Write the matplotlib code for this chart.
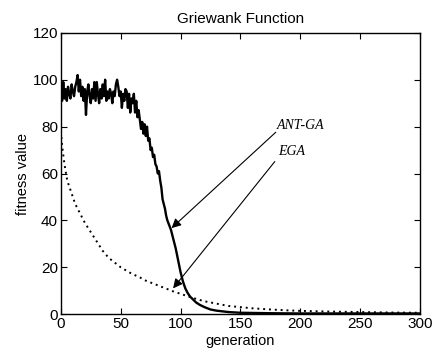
import matplotlib
matplotlib.use("Agg")
import matplotlib.pyplot as plt

# ANT-GA (solid, noisy) values
ant_gen = list(range(0, 90)) + [92, 94, 96, 98, 100, 102, 104, 106, 108, 110,
                                113, 116, 120, 125, 130, 140, 150, 175, 200, 250, 300]
ant_val = [100, 91, 99, 92, 96, 91, 97, 94, 92, 98,
           95, 93, 97, 99, 102, 95, 100, 93, 97, 91,
           96, 85, 95, 98, 93, 90, 96, 92, 99, 91,
           99, 94, 90, 96, 92, 98, 93, 100, 91, 95,
           92, 96, 94, 90, 95, 93, 98, 100, 97, 93,
           95, 88, 94, 91, 96, 95, 88, 94, 86, 92,
           90, 94, 86, 91, 84, 87, 83, 79, 82, 77,
           81, 76, 80, 74, 75, 70, 71, 67, 68, 64,
           63, 60, 61, 57, 54, 49, 47, 45, 42, 40,
           36, 32, 28, 23, 18, 14, 11, 9, 7.5, 6.5,
           5, 4, 3, 2, 1.5, 0.9, 0.6, 0.4, 0.3, 0.3, 0.3]

# EGA (dotted) values
ega_gen = [0, 1, 2, 3, 4, 5, 6, 8, 10, 12, 15, 18, 20, 25, 30, 35, 40, 45, 50,
           55, 60, 65, 70, 75, 80, 85, 90, 95, 100, 105, 110, 115, 120, 130,
           140, 150, 160, 175, 190, 200, 225, 250, 275, 300]
ega_val = [78, 72, 68, 64, 61, 58, 56, 53, 50, 47, 44, 41, 39, 35, 31, 27, 24,
           22, 20, 18.5, 17, 16, 14.5, 13.5, 12.5, 11.5, 10.5, 9.5, 8.7, 7.8,
           7, 6.2, 5.5, 4.5, 3.5, 3, 2.5, 2, 1.6, 1.4, 1.1, 0.9, 0.7, 0.6]

xticks = [0, 50, 100, 150, 200, 250, 300]
yticks = [0, 20, 40, 60, 80, 100, 120]

plt.rcParams["font.family"] = "Liberation Sans"

fig = plt.figure(figsize=(4.41, 3.57), dpi=100)
ax = fig.add_axes([0.138, 0.12, 0.814, 0.788])

ax.plot(ant_gen, ant_val, color="black", linewidth=1.7)
ax.plot(ega_gen, ega_val, color="black", linestyle=(0, (1, 2)), linewidth=1.4)

ax.set_xlim(0, 300)
ax.set_ylim(0, 120)
ax.set_xticks(xticks)
ax.set_yticks(yticks)
ax.tick_params(direction="in", top=True, right=True, labelsize=11, length=4,
               pad=2)
for s in ax.spines.values():
    s.set_linewidth(1.0)

ax.set_title("Griewank Function", fontsize=11, pad=7)
ax.set_xlabel("generation", fontsize=10.5, labelpad=2)
ax.set_ylabel("fitness value", fontsize=10.5, labelpad=2)

# arrows drawn apart from the labels
arrow = dict(arrowstyle="-|>", color="black", lw=0.8, mutation_scale=14,
             shrinkA=0, shrinkB=0)
ax.annotate("", xy=(92.5, 36.7), xytext=(179.6, 77.6), arrowprops=arrow)
ax.annotate("", xy=(93.8, 11), xytext=(178.8, 65.1), arrowprops=arrow)
ax.text(180.5, 79, "ANT-GA", fontsize=10, family="Liberation Serif",
        style="italic", va="baseline")
ax.text(182, 68, "EGA", fontsize=10, family="Liberation Serif",
        style="italic", va="baseline")

fig.savefig("out.png", dpi=100)
